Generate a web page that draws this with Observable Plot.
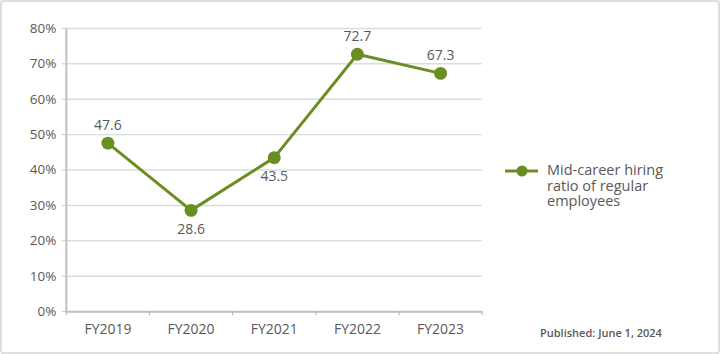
<!DOCTYPE html>
<html><head><meta charset="utf-8">
<script src="https://cdn.jsdelivr.net/npm/d3@7"></script>
<script src="https://cdn.jsdelivr.net/npm/@observablehq/plot@0.6"></script>
<style>
body{margin:0;background:#fff;font-family:"Open Sans",sans-serif;color:#595959}
#wrap{position:relative;width:720px;height:354px;box-sizing:border-box;border:2px solid #dedede;border-radius:3px;overflow:hidden}
#chart{position:absolute;left:-2px;top:-2px}
#legend{position:absolute;left:501px;top:160px;display:flex;align-items:flex-start}
#legend .txt{font-size:14.5px;line-height:15.5px;margin-left:8px;margin-top:0px;color:#595959}
#pub{position:absolute;left:538px;top:323px;font-size:11px;font-weight:600;color:#595959}
</style></head>
<body>
<div id="wrap"><div id="chart"></div>
<div id="legend"><svg width="36" height="20"><line x1="2" y1="9" x2="35" y2="9" stroke="#6b8e23" stroke-width="3"/><circle cx="19" cy="9" r="5.5" fill="#6b8e23"/></svg><div class="txt">Mid-career hiring<br>ratio of regular<br>employees</div></div>
<div id="pub">Published: June 1, 2024</div>
</div>
<script>
const years = ["FY2019", "FY2020", "FY2021", "FY2022", "FY2023"];
const ratios = [47.6, 28.6, 43.5, 72.7, 67.3];
const labelSide = ["top", "bottom", "bottom", "top", "top"];
const yTicks = [0, 10, 20, 30, 40, 50, 60, 70, 80];
const seriesName = "Mid-career hiring ratio of regular employees";

const data = years.map((y, i) => ({i, year: y, value: ratios[i] / 100, label: ratios[i].toFixed(1), side: labelSide[i]}));
const green = "#6b8e23";
const idx = years.map((_, i) => i);
const bounds = [...years.map((_, i) => i - 0.5), years.length - 0.5];

const chart = Plot.plot({
  width: 720, height: 354,
  marginLeft: 66, marginRight: 237, marginTop: 28, marginBottom: 42,
  style: {fontFamily: "Open Sans, sans-serif", color: "#595959", background: "transparent"},
  x: {type: "linear", domain: [-0.5, years.length - 0.5]},
  y: {domain: [0, 0.8]},
  marks: [
    Plot.gridY(yTicks.map(t => t / 100), {stroke: "#dcdcdc", strokeOpacity: 1, strokeWidth: 1.5, x1: -0.5, x2: years.length - 0.5}),
    Plot.axisY(yTicks.map(t => t / 100), {tickFormat: d => Math.round(d * 100) + "%", tickSize: 4, stroke: "#c8c8c8", fontSize: 13.5, fill: "#595959", tickPadding: 6, label: null}),
    Plot.ruleX([-0.5], {stroke: "#c0c0c0", strokeWidth: 2}),
    Plot.ruleY([0], {stroke: "#c0c0c0", strokeWidth: 2}),
    Plot.axisX(bounds, {tickFormat: () => "", tickSize: 4, stroke: "#b0b0b0", label: null}),
    Plot.axisX(idx, {tickFormat: i => years[i], tickSize: 0, tickPadding: 12, fontSize: 14, fill: "#595959", label: null}),
    Plot.line(data, {x: "i", y: "value", stroke: green, strokeWidth: 3}),
    Plot.dot(data, {x: "i", y: "value", r: 6.5, fill: green, stroke: null, title: d => `${seriesName}: ${d.label}`}),
    Plot.text(data.filter(d => d.side === "top"), {x: "i", y: "value", text: "label", dy: -18, fontSize: 14, fill: "#595959"}),
    Plot.text(data.filter(d => d.side === "bottom"), {x: "i", y: "value", text: "label", dy: 19, fontSize: 14, fill: "#595959"})
  ]
});
document.getElementById("chart").appendChild(chart);
</script>
</body></html>
